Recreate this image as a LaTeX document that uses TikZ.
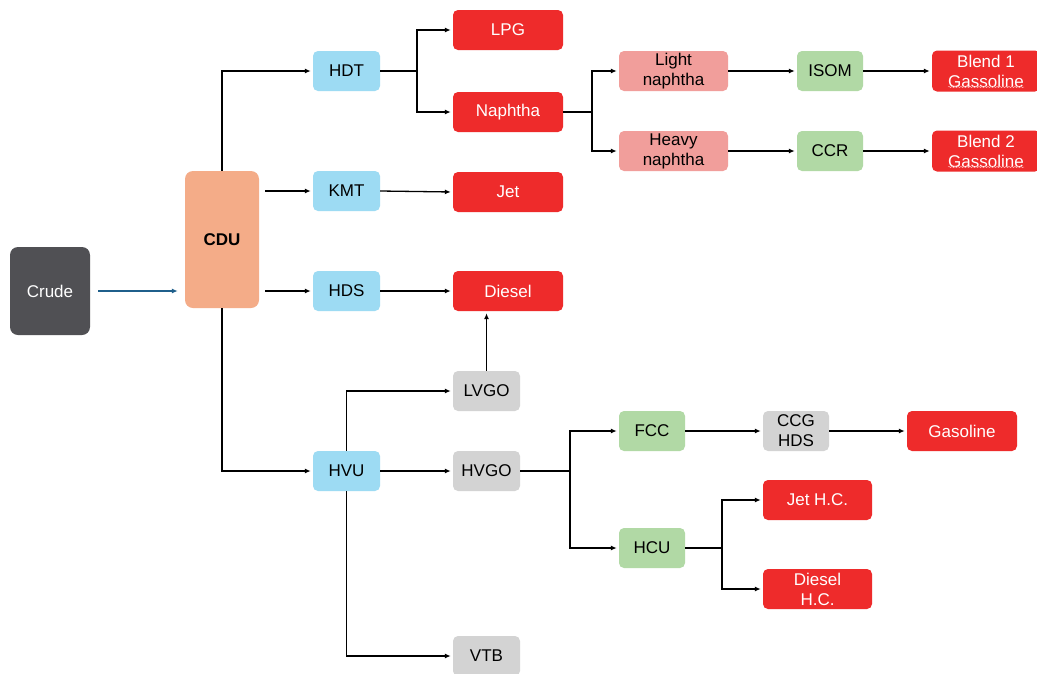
\documentclass[tikz,border=0pt]{standalone}
\usepackage{fontspec}
\setmainfont{Liberation Sans}
\usetikzlibrary{arrows.meta,decorations.pathmorphing}
\definecolor{crudec}{HTML}{505054}
\definecolor{cduc}{HTML}{F4AC88}
\definecolor{bluec}{HTML}{9DDBF3}
\definecolor{redc}{HTML}{EE2B2B}
\definecolor{pinkc}{HTML}{F19E9B}
\definecolor{greenc}{HTML}{B1D9A5}
\definecolor{grayc}{HTML}{D3D3D3}
\definecolor{crudearrc}{HTML}{1F5F8B}
\begin{document}
\begin{tikzpicture}[x=1pt,y=-1pt,
  box/.style={rectangle,rounded corners=5pt,inner sep=0pt,align=center,font=\fontsize{17}{20}\selectfont},
  bl/.style={box,fill=bluec,minimum width=67pt,minimum height=40pt},
  rd/.style={box,fill=redc,text=white,minimum width=110pt,minimum height=40pt},
  rds/.style={box,fill=redc,text=white,minimum width=109pt,minimum height=40pt},
  pk/.style={box,fill=pinkc,minimum width=109pt,minimum height=40pt},
  gr/.style={box,fill=greenc,minimum width=66pt,minimum height=40pt},
  gy/.style={box,fill=grayc,minimum width=67pt,minimum height=40pt},
  ln/.style={line width=1.3pt},
  arr/.style={ln,-{Latex[length=6pt,width=5pt]},shorten >=2pt},
  squig/.style={decorate,decoration={snake,amplitude=0.7pt,segment length=3pt},draw=red!35!white,line width=0.5pt}]
\useasboundingbox[fill=white] (0,0) rectangle (1037,673);
% nodes
\node[box,fill=crudec,text=white,minimum width=80pt,minimum height=88pt,rounded corners=8pt] (crude) at (50,291) {Crude};
\node[box,fill=cduc,minimum width=74pt,minimum height=137pt,rounded corners=8pt,font=\fontsize{17}{20}\selectfont\bfseries] (cdu) at (222,239.5) {CDU};
\node[bl] (hdt) at (346.5,71) {HDT};
\node[bl] (kmt) at (346.5,191) {KMT};
\node[bl] (hds) at (346.5,291) {HDS};
\node[bl] (hvu) at (346.5,471) {HVU};
\node[rd] (lpg) at (508,30) {LPG};
\node[rd] (naphtha) at (508,112) {Naphtha};
\node[rd] (jet) at (508,192) {Jet};
\node[rd] (diesel) at (508,291) {Diesel};
\node[gy] (lvgo) at (486.5,391) {LVGO};
\node[gy] (hvgo) at (486.5,471) {HVGO};
\node[gy] (vtb) at (486.5,656) {VTB};
\node[pk] (lnaph) at (673.5,71) {Light\\naphtha};
\node[pk] (hnaph) at (673.5,151) {Heavy\\naphtha};
\node[gr] (isom) at (830,71) {ISOM};
\node[gr] (ccr) at (830,151) {CCR};
\node[box,fill=redc,text=white,minimum width=108pt,minimum height=41pt] (blend1) at (986,71) {Blend 1\\Gassoline};
\node[box,fill=redc,text=white,minimum width=108pt,minimum height=41pt] (blend2) at (986,151) {Blend 2\\Gassoline};
\node[gr] (fcc) at (652,431) {FCC};
\node[gy,minimum width=66pt] (ccg) at (796,431) {CCG\\HDS};
\node[rd] (gasoline) at (962,431) {Gasoline};
\node[gr] (hcu) at (652,548) {HCU};
\node[rds] (jethc) at (817.5,500) {Jet H.C.};
\node[rds] (dieselhc) at (817.5,589) {Diesel\\H.C.};
% spell-check squiggles
\path[squig] (948,87) -- (1024,87);
\path[squig] (948,167) -- (1024,167);
% branch points
\coordinate (b1) at (417,71);
\coordinate (b2) at (592,112);
\coordinate (b3) at (570,471);
\coordinate (b4) at (722,548);
% connectors
\draw[ln,draw=crudearrc,-{Latex[length=6pt,width=5pt]},shorten >=7pt,shorten <=8pt] (crude.east) -- (cdu.west |- crude);
\draw[arr] (cdu.north) |- (hdt.west);
\draw[arr] (cdu.south) |- (hvu.west);
\draw[arr] ([xshift=6pt]cdu.east |- kmt) -- (kmt.west);
\draw[arr] ([xshift=6pt]cdu.east |- hds) -- (hds.west);
\draw[ln] (hdt.east) -- (b1);
\draw[arr] (b1) |- (lpg.west);
\draw[arr] (b1) |- (naphtha.west);
\draw[arr] (kmt.east) -- (jet.west);
\draw[arr] (hds.east) -- (diesel.west);
\draw[arr] (lvgo.north) -- (lvgo.north |- diesel.south);
\draw[arr] (hvu.north) |- (lvgo.west);
\draw[arr] (hvu.east) -- (hvgo.west);
\draw[arr] (hvu.south) |- (vtb.west);
\draw[ln] (naphtha.east) -- (b2);
\draw[arr] (b2) |- (lnaph.west);
\draw[arr] (b2) |- (hnaph.west);
\draw[arr] (lnaph.east) -- (isom.west);
\draw[arr] (isom.east) -- (blend1.west);
\draw[arr] (hnaph.east) -- (ccr.west);
\draw[arr] (ccr.east) -- (blend2.west);
\draw[ln] (hvgo.east) -- (b3);
\draw[arr] (b3) |- (fcc.west);
\draw[arr] (b3) |- (hcu.west);
\draw[arr] (fcc.east) -- (ccg.west);
\draw[arr] (ccg.east) -- (gasoline.west);
\draw[ln] (hcu.east) -- (b4);
\draw[arr] (b4) |- (jethc.west);
\draw[arr] (b4) |- (dieselhc.west);
\end{tikzpicture}
\end{document}
